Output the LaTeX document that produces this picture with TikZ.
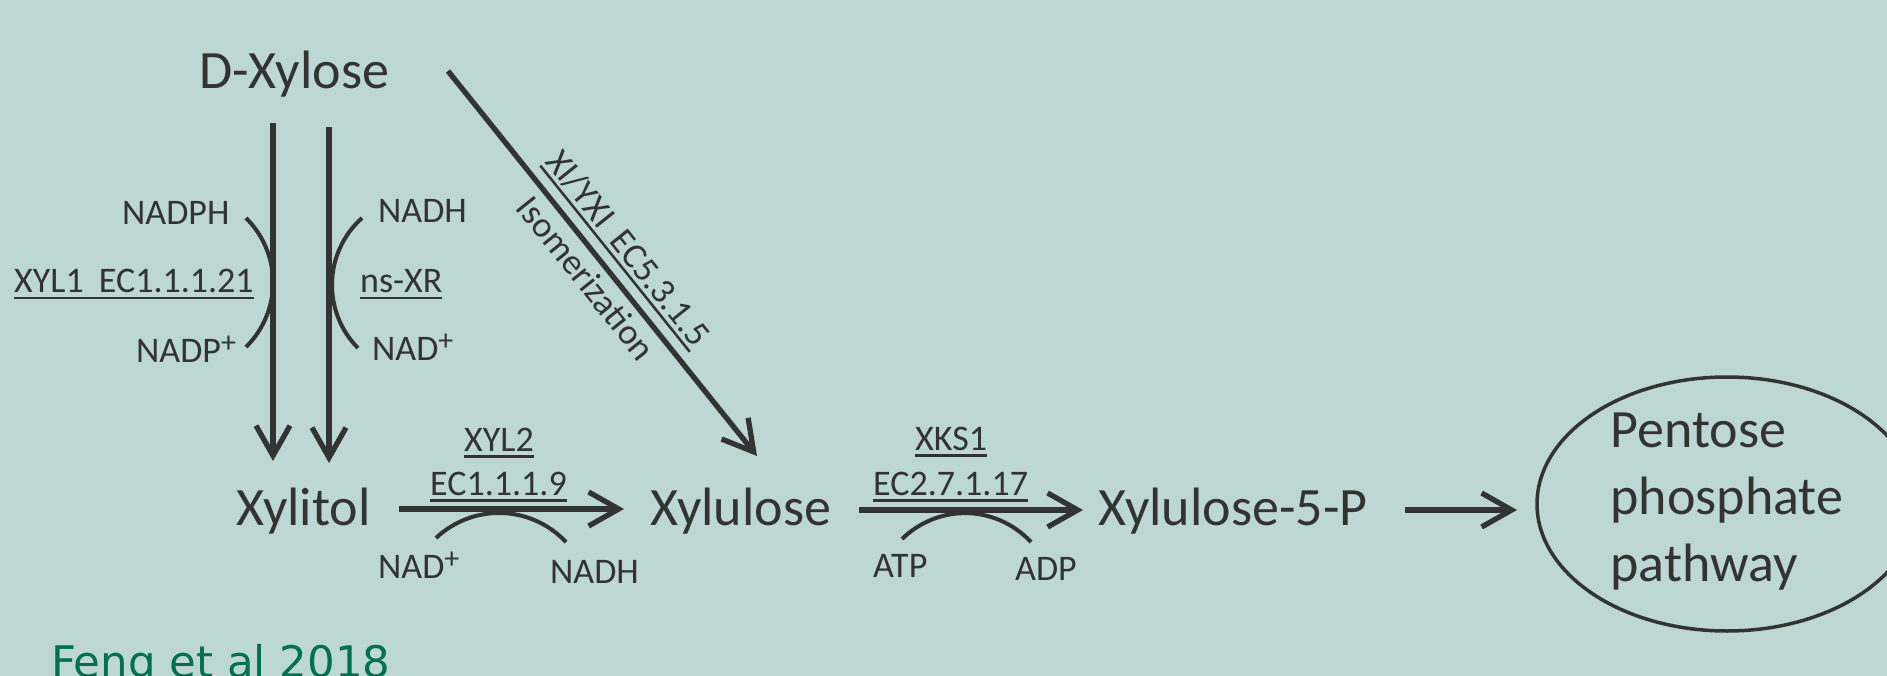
\documentclass[tikz,border=0pt]{standalone}
\usepackage{fontspec}
\setmainfont{Carlito}
\newfontfamily\fengfont{DejaVu Sans}
\usetikzlibrary{arrows.meta,shapes.geometric}
\definecolor{bgcol}{RGB}{188,215,212}
\definecolor{ink}{RGB}{51,51,51}
\definecolor{fenggreen}{RGB}{0,112,80}
\newcommand\ulx[1]{\setbox0=\hbox{#1}\dp0=0pt\vtop{\copy0\kern4pt\hrule height 2.5pt}}
\newcommand\plussup{\raisebox{10pt}{\fontsize{30}{30}\selectfont +}}
\begin{document}
\begin{tikzpicture}[x=1pt,y=-1pt,
  lbl/.style={inner sep=0pt, anchor=base west, text=ink, font=\fontsize{36}{43}\selectfont},
  big/.style={inner sep=0pt, anchor=base west, text=ink, font=\fontsize{54}{65}\selectfont},
  arr/.style={draw=ink, line width=5.3pt, -{Straight Barb[length=30pt,width=34pt]}},
  cof/.style={draw=ink, line width=4pt}]
\fill[bgcol] (0,0) rectangle (1887,676);
\useasboundingbox (0,0) rectangle (1887,676);

% metabolites
\node[big] (dxyl) at (199,89) {D-Xylose};
\node[big] (xylitol) at (236,525) {Xylitol};
\node[big] (xylulose) at (650,525) {Xylulose};
\node[big] (x5p) at (1098,525) {Xylulose-5-P};
\node[draw=ink, line width=3.5pt, ellipse, minimum width=380pt, minimum height=254pt, inner sep=0pt] (ppp) at (1727,504) {};
\node[inner sep=0pt, align=left, text=ink, font=\fontsize{54}{67}\selectfont] (ppptext) at (1727,502) {Pentose\\phosphate\\pathway};

% labels left branch
\node[lbl] (nadph) at (122,225) {NADPH};
\node[lbl] (xyl1) at (14,293) {\ulx{XYL1\hspace{0.42em}EC1.1.1.21}};
\node[lbl] (nadp) at (136,362) {NADP\plussup};
\node[lbl] (nadh1) at (378,223) {NADH};
\node[lbl] (nsxr) at (360,293) {\ulx{ns-XR}};
\node[lbl] (nad1) at (372,360) {NAD\plussup};

% labels bottom
\node[lbl] (xyl2) at (464,451) {\ulx{XYL2}};
\node[lbl] (ec119) at (430,495) {\ulx{EC1.1.1.9}};
\node[lbl] (nad2) at (378,578) {NAD\plussup};
\node[lbl] (nadh2) at (550,583) {NADH};
\node[lbl] (xks1) at (915,450) {\ulx{XKS1}};
\node[lbl] (ec27) at (873,495) {\ulx{EC2.7.1.17}};
\node[lbl] (atp) at (873,577) {ATP};
\node[lbl] (adp) at (1015,580) {ADP};

% diagonal labels
\node[lbl, anchor=base, rotate=-51.25] (xi) at (619.1,255.4) {\ulx{XI/YXI\hspace{0.42em}EC5.3.1.5}};
\node[lbl, anchor=base, rotate=-51.25] (iso) at (576.7,285.7) {Isomerization};

% citation
\node[inner sep=0pt, anchor=base west, text=fenggreen, font=\fengfont\fontsize{43.5}{50}\selectfont] (feng) at (51,677) {Feng et al 2018};

% arrow end points
\coordinate (v1s) at (273,123); \coordinate (v1e) at (273,461);
\coordinate (v2s) at (329,127); \coordinate (v2e) at (329,463);
\coordinate (ds) at (448,71);   \coordinate (de) at (757,456);
\coordinate (h1s) at (399,509); \coordinate (h1e) at (624,509);
\coordinate (h2s) at (859,510); \coordinate (h2e) at (1083,510);
\coordinate (h3s) at (1405,510); \coordinate (h3e) at (1517,510);

\draw[arr] (v1s) -- (v1e);
\draw[arr] (v2s) -- (v2e);
\draw[arr] (ds) -- (de);
\draw[arr] (h1s) -- (h1e);
\draw[arr] (h2s) -- (h2e);
\draw[arr] (h3s) -- (h3e);

% cofactor arcs
\coordinate (a1s) at (246,218); \coordinate (a1e) at (246,347);
\coordinate (a2s) at (362,218); \coordinate (a2e) at (358,348);
\coordinate (b1s) at (436,538); \coordinate (b1e) at (566,542);
\coordinate (b2s) at (902,539); \coordinate (b2e) at (1031,542);
\draw[cof] (a1s) .. controls (282,253.5) and (282,311.5) .. (a1e);
\draw[cof] (a2s) .. controls (322.7,253.2) and (322.7,312.8) .. (a2e);
\draw[cof] (b1s) .. controls (472,504) and (530,504) .. (b1e);
\draw[cof] (b2s) .. controls (938,504) and (995,504) .. (b2e);
\end{tikzpicture}
\end{document}
